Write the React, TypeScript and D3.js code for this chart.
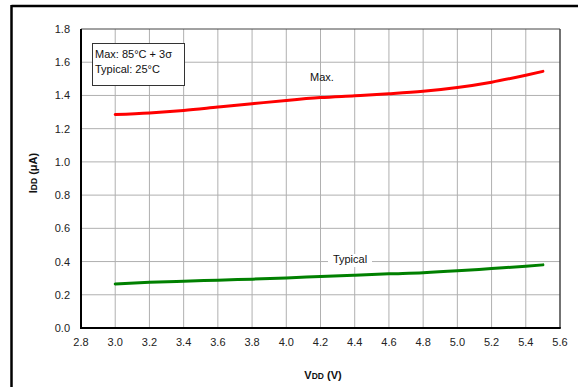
import React from "react";
import * as d3 from "d3";

const xTicks = [2.8, 3.0, 3.2, 3.4, 3.6, 3.8, 4.0, 4.2, 4.4, 4.6, 4.8, 5.0, 5.2, 5.4, 5.6];
const yTicks = [0.0, 0.2, 0.4, 0.6, 0.8, 1.0, 1.2, 1.4, 1.6, 1.8];
const vdd = [3.0, 3.2, 3.4, 3.6, 3.8, 4.0, 4.2, 4.4, 4.6, 4.8, 5.0, 5.2, 5.4, 5.5];
const maxIdd = [1.285, 1.295, 1.31, 1.33, 1.35, 1.37, 1.387, 1.398, 1.41, 1.425, 1.448, 1.48, 1.522, 1.545];
const typIdd = [0.265, 0.275, 0.282, 0.288, 0.294, 0.301, 0.31, 0.318, 0.326, 0.333, 0.344, 0.358, 0.372, 0.38];

export default function App() {
  const W = 578, H = 387;
  const L = 81, R = 560, T = 29, B = 328;
  const x = d3.scaleLinear().domain([2.8, 5.6]).range([L, R]);
  const y = d3.scaleLinear().domain([0, 1.8]).range([B, T]);
  const line = d3.line<number>().x((_, i) => x(vdd[i])).y((d) => y(d)).curve(d3.curveMonotoneX);
  const font = "Arial, 'Liberation Sans', sans-serif";
  return (
    <svg width={W} height={H} style={{ position: "absolute", left: 0, top: 0 }} fontFamily={font}>
      <rect x={0} y={0} width={W} height={H} fill="#fff" />
      {/* outer frame */}
      <line x1={11.5} y1={6} x2={W} y2={6} stroke="#000" strokeWidth={2.5} />
      <line x1={11.5} y1={5} x2={11.5} y2={H} stroke="#000" strokeWidth={2.5} />
      {/* grid */}
      {xTicks.slice(1, -1).map((t) => (
        <line key={"gx" + t} x1={x(t)} x2={x(t)} y1={T} y2={B} stroke="#b0b0b0" strokeWidth={1} />
      ))}
      {yTicks.slice(1, -1).map((t) => (
        <line key={"gy" + t} x1={L} x2={R} y1={y(t)} y2={y(t)} stroke="#b0b0b0" strokeWidth={1} />
      ))}
      {/* plot borders */}
      <line x1={L} x2={R} y1={T} y2={T} stroke="#444" strokeWidth={1} />
      <line x1={R} x2={R} y1={T} y2={B} stroke="#444" strokeWidth={1.5} />
      <line x1={L} x2={L} y1={T} y2={B + 1} stroke="#000" strokeWidth={2} />
      <line x1={L - 1} x2={R + 0.75} y1={B} y2={B} stroke="#000" strokeWidth={2} />
      {/* legend box */}
      <rect x={92.5} y={43.5} width={92} height={42} fill="#fff" stroke="#333" strokeWidth={1} />
      <text x={95} y={58} fontSize={11} fill="#111">Max: 85°C + 3σ</text>
      <text x={95} y={73} fontSize={11} fill="#111">Typical: 25°C</text>
      {/* curves */}
      <path d={line(maxIdd) || ""} fill="none" stroke="#ff0000" strokeWidth={3} strokeLinecap="round" />
      <path d={line(typIdd) || ""} fill="none" stroke="#008000" strokeWidth={3} strokeLinecap="round" />
      {/* annotations */}
      <text x={322} y={81} fontSize={11} fill="#111" textAnchor="middle">Max.</text>
      <rect x={328} y={254} width={44} height={13} fill="#fff" />
      <text x={350} y={263} fontSize={11} fill="#111" textAnchor="middle">Typical</text>
      {/* tick labels */}
      {yTicks.map((t) => (
        <text key={"yl" + t} x={70} y={y(t) + 4} fontSize={11} fill="#222" textAnchor="end">{t.toFixed(1)}</text>
      ))}
      {xTicks.map((t) => (
        <text key={"xl" + t} x={x(t)} y={346} fontSize={11} fill="#222" textAnchor="middle">{t.toFixed(1)}</text>
      ))}
      {/* axis titles */}
      <text x={323} y={379} fontSize={11} fontWeight="bold" fill="#111" textAnchor="middle">
        V<tspan fontSize={8.5}>DD</tspan> (V)
      </text>
      <text transform="translate(37,173) rotate(-90)" x={0} y={0} fontSize={11} fontWeight="bold" fill="#111" textAnchor="middle">
        I<tspan fontSize={8.5}>DD</tspan> (μA)
      </text>
    </svg>
  );
}
